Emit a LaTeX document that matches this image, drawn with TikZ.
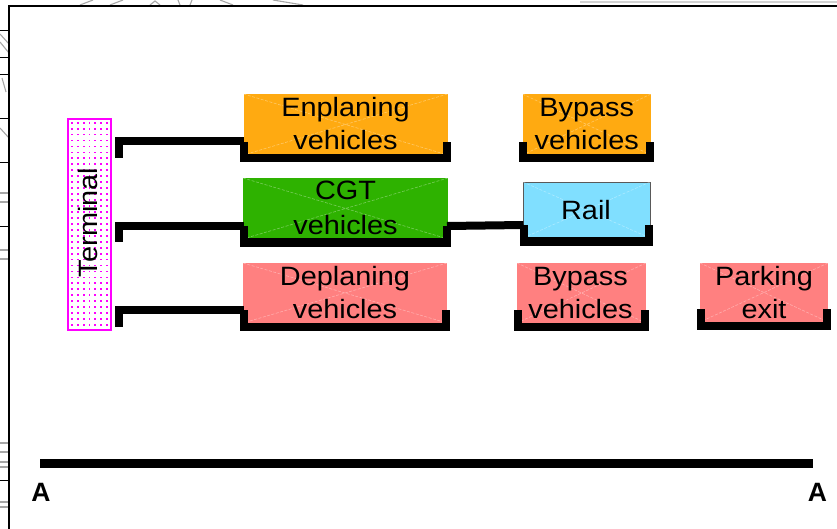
\documentclass[tikz,border=0pt]{standalone}
\usepackage{fontspec}
\setmainfont{Liberation Sans}
\definecolor{orangebox}{RGB}{255,170,17}
\definecolor{greenbox}{RGB}{46,178,0}
\definecolor{pinkbox}{RGB}{255,128,128}
\definecolor{railblue}{RGB}{128,223,255}
\definecolor{termmag}{RGB}{255,0,255}
\newcommand\wtext[1]{\scalebox{1.09}[1]{#1}}
\tikzset{
  box/.style={rectangle, inner sep=0pt, outer sep=0pt, draw=none},
  lbl/.style={font=\fontsize{26.5}{33}\selectfont, anchor=base, inner sep=0pt, text=black},
  conn/.style={line width=8pt, line join=miter, line cap=butt, black},
  xline/.style={white, opacity=0.35, line width=0.6pt, dash pattern=on 3pt off 1.5pt},
  albl/.style={font=\fontsize{26.5}{30}\selectfont\bfseries, inner sep=0pt, text=black},
  scrib/.style={gray!70, line width=1.1pt},
}
\newcommand\mystand[1]{%
  \draw[conn] ([xshift=0.5pt,yshift=13pt]#1.south west) --
    ([xshift=0.5pt,yshift=-3.5pt]#1.south west) --
    ([xshift=-1pt,yshift=-3.5pt]#1.south east) --
    ([xshift=-1pt,yshift=13pt]#1.south east);}
\newcommand\myx[1]{\draw[xline] (#1.north west) -- (#1.south east) (#1.north east) -- (#1.south west);}
\begin{document}
\begin{tikzpicture}[x=1pt,y=-1pt]
\useasboundingbox (0,0) rectangle (837,529);
\fill[white] (0,0) rectangle (837,529);
% background scribbles outside the frame
\foreach \yy in {31,58,75,119,163,227,480} \draw[black, line width=1pt] (0,\yy) -- (9,\yy);
\foreach \yy in {193,202,250,259,443,452,462,467,502,507} \draw[scrib] (0,\yy) -- (9,\yy);
\draw[scrib] (0,34) -- (9,44) (0,42) -- (9,53) (2,78) -- (6,92) (0,128) -- (9,138);
\draw[scrib] (80,5) -- (93,0) (110,5) -- (123,0) (150,5) -- (155,1) -- (160,5)
  (180,5) -- (178,0) (190,5) -- (192,0) (220,0) -- (233,5) (273,0) -- (303,5);
\draw[gray!35, line width=1.5pt] (580,2) -- (837,2);
% frame
\draw[black, line width=2pt] (9,529) -- (9,6) -- (837,6);
% boxes
\node[box, fill=orangebox, minimum width=204pt, minimum height=61pt] (enp) at (345.5,124.5) {};
\node[box, fill=orangebox, minimum width=128.5pt, minimum height=61pt] (byp1) at (586.75,124.5) {};
\node[box, fill=greenbox, minimum width=205pt, minimum height=61pt] (cgt) at (345.5,208.5) {};
\node[box, fill=railblue, draw=black!65, line width=0.8pt, minimum width=127pt, minimum height=56pt] (rail) at (586.5,210) {};
\node[box, fill=pinkbox, minimum width=204pt, minimum height=60pt] (dep) at (345,293) {};
\node[box, fill=pinkbox, minimum width=129pt, minimum height=60pt] (byp2) at (581.5,293) {};
\node[box, fill=pinkbox, minimum width=128pt, minimum height=59pt] (park) at (764,292.5) {};
\foreach \b in {enp,byp1,cgt,rail,dep,byp2,park} {\myx{\b}}
% terminal
\node[box, fill=white, draw=termmag, line width=1.2pt, minimum width=43pt, minimum height=211pt] (term) at (89.5,224.5) {};
\foreach \i in {0,...,6} \foreach \j in {0,...,34}
  \fill[termmag] (71+5.85*\i,121.8+5.95*\j) rectangle ++(1.8,1.8);
\node[lbl, rotate=90] (termtxt) at (97,222.5) {\wtext{Terminal}};
% stands under boxes
\foreach \b in {enp,byp1,cgt,rail,dep,byp2,park} {\mystand{\b}}
% connectors
\coordinate (t1) at (119,158);
\coordinate (t2) at (119,242);
\coordinate (t3) at (119,327);
\draw[conn] (t1) |- ([xshift=0.5pt,yshift=14pt]enp.south west);
\draw[conn] (t2) |- ([xshift=0.5pt,yshift=13pt]cgt.south west);
\draw[conn] (t3) |- ([xshift=0.5pt,yshift=13pt]dep.south west);
\draw[conn] ([xshift=-1pt,yshift=13pt]cgt.south east) -- ([xshift=0.5pt,yshift=13pt]rail.south west);
% labels
\node[lbl] (enpa) at (345.5,117) {\wtext{Enplaning}};
\node[lbl] (enpb) at (345.5,150) {\wtext{vehicles}};
\node[lbl] (byp1a) at (586.75,117) {\wtext{Bypass}};
\node[lbl] (byp1b) at (586.75,150) {\wtext{vehicles}};
\node[lbl] (cgta) at (345.5,200) {\wtext{CGT}};
\node[lbl] (cgtb) at (345.5,234) {\wtext{vehicles}};
\node[lbl] (raila) at (586,220) {\wtext{Rail}};
\node[lbl] (depa) at (345,285) {\wtext{Deplaning}};
\node[lbl] (depb) at (345,318) {\wtext{vehicles}};
\node[lbl] (byp2a) at (580.5,285) {\wtext{Bypass}};
\node[lbl] (byp2b) at (580.5,318) {\wtext{vehicles}};
\node[lbl] (parka) at (764,285) {\wtext{Parking}};
\node[lbl] (parkb) at (764,318) {\wtext{exit}};
% section line A-A
\coordinate (sa) at (40,463);
\coordinate (sb) at (813,463);
\draw[black, line width=9pt] (sa) -- (sb);
\node[albl] (aleft) at (41,492.5) {A};
\node[albl] (aright) at (817.5,492.5) {A};
\end{tikzpicture}
\end{document}
